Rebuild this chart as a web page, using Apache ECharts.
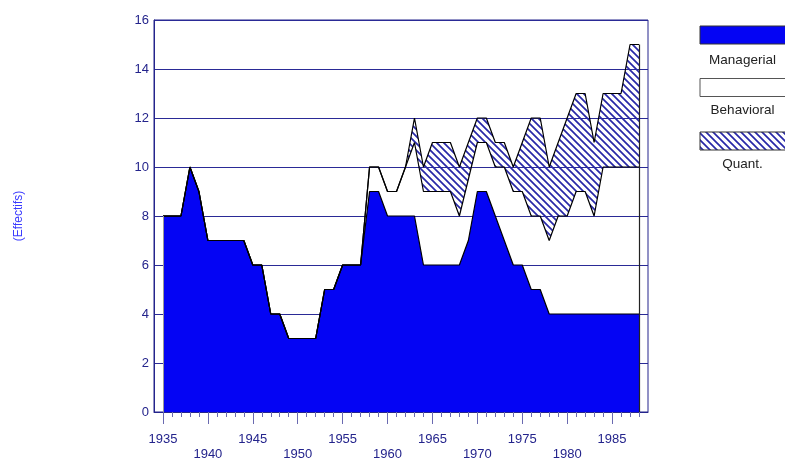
<!DOCTYPE html>
<html>
<head>
<meta charset="utf-8">
<script src="https://cdn.jsdelivr.net/npm/echarts@6/dist/echarts.min.js"></script>
<style>
html,body{margin:0;padding:0;background:#fff;}
#chart{width:785px;height:459px;}
</style>
</head>
<body>
<div id="chart"></div>
<script>
const years = [1935,1936,1937,1938,1939,1940,1941,1942,1943,1944,
  1945,1946,1947,1948,1949,1950,1951,1952,1953,1954,
  1955,1956,1957,1958,1959,1960,1961,1962,1963,1964,
  1965,1966,1967,1968,1969,1970,1971,1972,1973,1974,
  1975,1976,1977,1978,1979,1980,1981,1982,1983,1984,
  1985,1986,1987,1988];
const managerial = [8,8,8,10,9,7,7,7,7,7,
  6,6,4,4,3,3,3,3,5,5,
  6,6,6,9,9,8,8,8,8,6,
  6,6,6,6,7,9,9,8,7,6,
  6,5,5,4,4,4,4,4,4,4,
  4,4,4,4];
const behavioral = [0,0,0,0,0,0,0,0,0,0,
  0,0,0,0,0,0,0,0,0,0,
  0,0,0,1,1,1,1,2,3,3,
  3,3,3,2,2.5,2,2,2,3,3,
  3,3,3,3,4,4,5,5,4,6,
  6,6,6,6];
const quant = [0,0,0,0,0,0,0,0,0,0,
  0,0,0,0,0,0,0,0,0,0,
  0,0,0,0,0,0,0,0,1,1,
  2,2,2,2,1.5,1,1,1,1,1,
  2,4,4,3,3,4,4,4,3,3,
  3,3,5,5];
const xLabelYears = [1935,1940,1945,1950,1955,1960,1965,1970,1975,1980,1985];
const yTicks = [0,2,4,6,8,10,12,14,16];
const seriesNames = ['Managerial','Behavioral','Quant.'];

const navy = '#24248c';
const font = '"Liberation Sans", Arial, sans-serif';

function hatchCanvas(){
  const s = 7;
  const c = document.createElement('canvas');
  c.width = s; c.height = s;
  const g = c.getContext('2d');
  g.clearRect(0,0,s,s);
  g.strokeStyle = '#2828a8';
  g.lineWidth = 1.7;
  g.beginPath();
  g.moveTo(-1,-1); g.lineTo(s+1,s+1);
  g.moveTo(-1,s-1); g.lineTo(1,s+1);
  g.moveTo(s-1,-1); g.lineTo(s+1,1);
  g.stroke();
  return c;
}
const hatch = {image: hatchCanvas(), repeat: 'repeat'};
const blue = '#0404f4';

// rows are [value, year] so that the value dimension is the stacked one
const rows = arr => years.map((y,i)=>[arr[i], y]);
const last = years.length-1;
const totalLast = managerial[last]+behavioral[last]+quant[last];
const enc = {x:1, y:0};

const chart = echarts.init(document.getElementById('chart'), null, {renderer:'canvas'});
chart.setOption({
  animation:false,
  backgroundColor:'#fff',
  grid:{left:154, top:20, right:137, bottom:47, show:true, borderColor:navy, borderWidth:1,
    backgroundColor:'transparent', containLabel:false, outerBoundsMode:'none'},
  xAxis:[{
    type:'value', min:1934, max:1989,
    axisLine:{show:true, lineStyle:{color:navy, width:1}},
    axisTick:{show:true, length:5, customValues: years, lineStyle:{color:'#6a6ab0'}},
    axisLabel:{show:false},
    splitLine:{show:false}
  },{
    type:'value', min:1934, max:1989, position:'bottom',
    axisLine:{show:false},
    axisTick:{show:true, length:12, customValues: xLabelYears, lineStyle:{color:'#6a6ab0'}},
    axisLabel:{show:true, customValues: xLabelYears, margin:20, color:navy, fontSize:13, fontFamily:font, lineHeight:15,
      formatter: v => (v % 10 === 5 ? String(v) : '\n' + v)},
    splitLine:{show:false}
  }],
  yAxis:{
    type:'value', min:0, max:16, interval:2,
    name:'(Effectifs)', nameLocation:'middle', nameGap:129,
    nameTextStyle:{color:'#3a3aff', fontSize:12, fontFamily:font},
    axisLine:{show:true, lineStyle:{color:navy}},
    axisTick:{show:false},
    axisLabel:{color:navy, fontSize:13, fontFamily:font, margin:5},
    splitLine:{show:true, lineStyle:{color:'#2a2a96', width:1}}
  },
  series:[{
    name:seriesNames[0], type:'line', stack:'all', data:rows(managerial), encode:enc,
    symbol:'none', lineStyle:{color:'#000', width:1.2},
    areaStyle:{color:blue, opacity:1},
    markLine:{silent:true, symbol:'none', label:{show:false},
      lineStyle:{color:'#999', width:1, type:'solid'},
      data:[[{coord:[years[0],0]},{coord:[years[0],managerial[0]]}]]}
  },{
    name:seriesNames[1], type:'line', stack:'all', data:rows(behavioral), encode:enc,
    symbol:'none', lineStyle:{color:'#000', width:1.2},
    areaStyle:{color:'rgba(255,255,255,0)'}
  },{
    name:seriesNames[2], type:'line', stack:'all', data:rows(quant), encode:enc,
    symbol:'none', lineStyle:{color:'#000', width:1.2},
    areaStyle:{color:hatch, opacity:1},
    markLine:{silent:true, symbol:'none', label:{show:false},
      lineStyle:{color:'#222', width:1.2, type:'solid'},
      data:[[{coord:[years[last],0]},{coord:[years[last],totalLast]}]]}
  }],
  graphic:[
    {type:'rect', shape:{x:700, y:26, width:90, height:18}, style:{fill:blue, stroke:'#333', lineWidth:1}},
    {type:'text', x:742.5, y:60, style:{text:seriesNames[0], fill:'#222', font:'13.5px '+font, align:'center', verticalAlign:'middle'}},
    {type:'rect', shape:{x:700, y:78.5, width:90, height:18}, style:{fill:'#fff', stroke:'#555', lineWidth:1}},
    {type:'text', x:742.5, y:110, style:{text:seriesNames[1], fill:'#222', font:'13.5px '+font, align:'center', verticalAlign:'middle'}},
    {type:'rect', shape:{x:700, y:132, width:90, height:18}, style:{fill:hatch, stroke:'#333', lineWidth:1}},
    {type:'text', x:742.5, y:164, style:{text:seriesNames[2], fill:'#222', font:'13.5px '+font, align:'center', verticalAlign:'middle'}}
  ]
});
</script>
</body>
</html>
